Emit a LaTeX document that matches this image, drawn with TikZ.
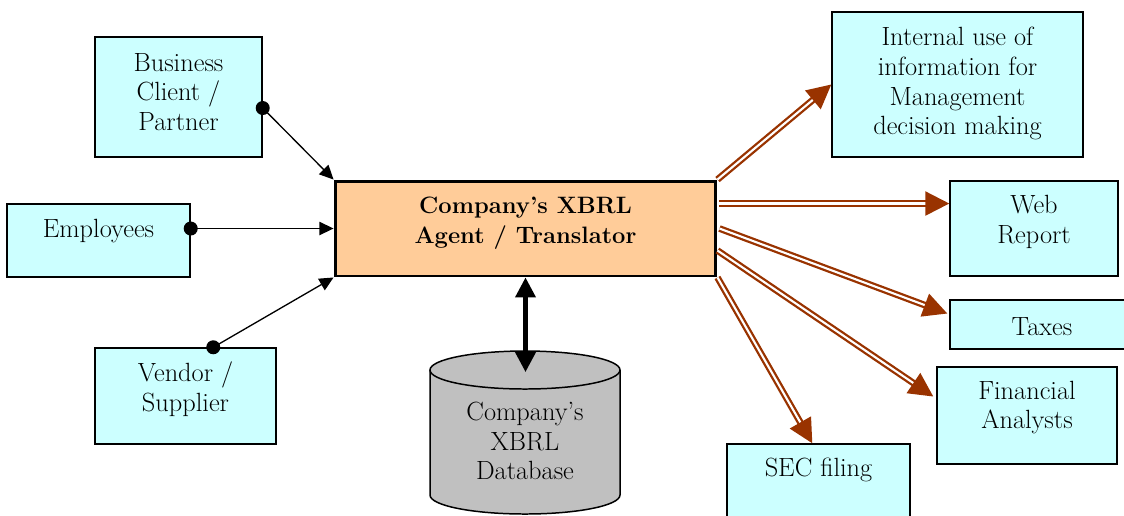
\documentclass[tikz,border=0pt]{standalone}
\usepackage{fontspec}
\usetikzlibrary{arrows.meta, calc}

\definecolor{boxcyan}{HTML}{CCFFFF}
\definecolor{agentfill}{HTML}{FFCC99}
\definecolor{dbgray}{HTML}{C0C0C0}
\definecolor{rust}{HTML}{993300}

\begin{document}
\begin{tikzpicture}[x=0.02cm, y=-0.02cm,
  box/.style={draw, line width=0.85pt, fill=boxcyan, inner sep=0pt},
  txt/.style={align=center, font=\fontsize{15}{17}\selectfont},
  feed/.style={line width=0.75pt, -{Triangle[length=8pt, width=7.5pt]}},
  dbline/.style={line width=2.3pt, {Triangle[length=0.4cm, width=0.4cm]}-{Triangle[length=0.4cm, width=0.4cm]}},
  outflow/.style={rust, line width=1.3pt, double=white, double distance=1.2pt,
    -{Triangle[length=0.48cm, width=0.48cm]}}]

\useasboundingbox (0,0) rectangle (1124,515);

% the translator in the middle
\node[box, fill=agentfill, line width=1.7pt, minimum width=7.62cm, minimum height=1.9cm] (agent) at (525.5,228.5) {};

% sources on the left
\node[box, minimum width=3.34cm, minimum height=2.4cm] (client) at (178.5,97) {};
\node[box, minimum width=3.66cm, minimum height=1.46cm] (emp) at (98.5,240.5) {};
\node[box, minimum width=3.62cm, minimum height=1.92cm] (vendor) at (185.5,396) {};

% receivers on the right
\node[box, minimum width=5.02cm, minimum height=2.9cm] (internal) at (957.5,84.5) {};
\node[box, minimum width=3.36cm, minimum height=1.9cm] (web) at (1034,228.5) {};
\node[box, minimum width=3.68cm, minimum height=0.98cm] (taxes) at (1042,324.5) {};
\node[box, minimum width=3.6cm, minimum height=1.94cm] (fin) at (1027,415.5) {};
\node[box, minimum width=3.66cm, minimum height=2cm] (sec) at (818.5,494) {};

% database
\filldraw[fill=dbgray, line width=0.85pt] (430,370) -- (430,495)
  arc[start angle=180, end angle=0, x radius=95, y radius=19] -- (620,370);
\filldraw[fill=dbgray, line width=0.85pt] (525,370) ellipse [x radius=95, y radius=19];
\coordinate (dbtop) at (525.5,372);

% texts
\node[txt] (client-t) at (178.5,92) {Business\\Client /\\Partner};
\node[txt] (emp-t) at (98.5,231) {Employees};
\node[txt] (vendor-t) at (185.5,389.5) {Vendor /\\Supplier};
\node[txt, font=\fontsize{13.5}{17}\selectfont\bfseries] (agent-t) at (525.5,223) {Company’s XBRL\\Agent / Translator};
\node[txt] (db-t) at (525,441) {Company’s\\XBRL\\Database};
\node[txt] (internal-t) at (957.5,83.5) {Internal use of\\information for\\Management\\decision making};
\node[txt] (web-t) at (1034,222) {Web\\Report};
\node[txt] (taxes-t) at (1042,327) {Taxes};
\node[txt] (fin-t) at (1027,407.5) {Financial\\Analysts};
\node[txt] (sec-t) at (818.5,470) {SEC filing};

% incoming connectors
\draw[feed] ($(client.east)+(0,11)$) coordinate (c0) -- (agent.north west);
\draw[feed] (agent.west -| emp.east) coordinate (e0) -- (agent.west);
\draw[feed] ($(vendor.north west)+(119,0)$) coordinate (v0) -- (agent.south west);
\foreach \p in {c0, e0, v0}
  \fill (\p) circle (7);

\draw[dbline] (agent.south) -- (dbtop);

% outgoing connectors
\draw[outflow] (agent.north east) -- (internal.west);
\draw[outflow] ($(agent.north east)+(2,24)$) coordinate (w0) -- (w0 -| web.west);
\draw[outflow] ($(agent.east)+(2,0)$) -- ($(taxes.west)+(-2,-11)$);
\draw[outflow] ($(agent.east)+(0,22)$) -- ($(fin.west)+(-3,-19)$);
\draw[outflow] (agent.south east) -- ($(sec.north west)+(86,0)$);

\end{tikzpicture}
\end{document}
